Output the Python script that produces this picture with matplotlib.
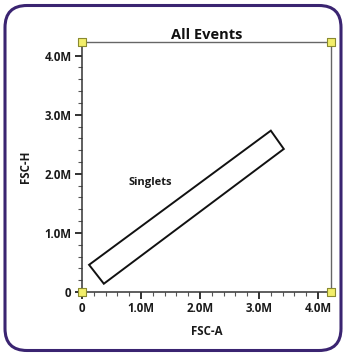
import matplotlib.pyplot as plt
from matplotlib.patches import FancyBboxPatch, Polygon
from matplotlib.ticker import MultipleLocator, FuncFormatter

# gate vertices (FSC-A, FSC-H), in events units
gate_x = [0.12e6, 0.37e6, 3.42e6, 3.20e6]
gate_y = [0.46e6, 0.14e6, 2.42e6, 2.73e6]
gate_name = 'Singlets'
gate_label_pos = (1.15e6, 1.85e6)

x_max = 4.22e6
y_max = 4.23e6
title = 'All Events'
x_label = 'FSC-A'
y_label = 'FSC-H'

plt.rcParams['font.family'] = ['Open Sans', 'DejaVu Sans']

fig = plt.figure(figsize=(3.44, 3.56), dpi=100)

# rounded panel outline (inches)
panel = FancyBboxPatch((0.05, 0.055), 3.36, 3.45,
                       boxstyle='round,pad=0,rounding_size=0.22',
                       transform=fig.dpi_scale_trans, facecolor='none',
                       edgecolor='#3a2471', linewidth=2.2, zorder=-1)
fig.patches.append(panel)

ax = fig.add_axes([82 / 344, 64 / 356, 249 / 344, 250 / 356])
ax.set_xlim(0, x_max)
ax.set_ylim(0, y_max)
ax.patch.set_alpha(0)


def fmt(v, pos):
    return '0' if v == 0 else f'{v / 1e6:.1f}M'


for axis in (ax.xaxis, ax.yaxis):
    axis.set_major_locator(MultipleLocator(1e6))
    axis.set_minor_locator(MultipleLocator(0.2e6))
    axis.set_major_formatter(FuncFormatter(fmt))

ax.tick_params(which='major', length=5, width=1.3, color='#222222',
               labelsize=8.3, pad=2.5)
ax.tick_params(which='minor', length=3, width=0.8, color='#555555')
for lbl in ax.get_xticklabels() + ax.get_yticklabels():
    lbl.set_fontweight('bold')
    lbl.set_color('#1a1a1a')

for side in ('left', 'bottom'):
    ax.spines[side].set_color('#333333')
    ax.spines[side].set_linewidth(1.1)
for side in ('top', 'right'):
    ax.spines[side].set_color('#666666')
    ax.spines[side].set_linewidth(1.0)

ax.set_title(title, fontsize=10.5, fontweight='bold', pad=1.5, color='#111111')
ax.set_xlabel(x_label, fontsize=8.3, fontweight='bold', labelpad=7, color='#1a1a1a')
ax.set_ylabel(y_label, fontsize=8.3, fontweight='bold', labelpad=9, color='#1a1a1a')

gate = Polygon(list(zip(gate_x, gate_y)), closed=True, fill=False,
               edgecolor='#111111', linewidth=1.4)
ax.add_patch(gate)
ax.text(*gate_label_pos, gate_name, fontsize=8, fontweight='bold',
        ha='center', va='center', color='#1a1a1a')

# corner handles
ax.scatter([0, 0, x_max, x_max], [0, y_max, y_max, 0], marker='s', s=30,
           facecolor='#f2ee6a', edgecolor='#8a8a30', linewidth=0.8,
           clip_on=False, zorder=5)

fig.savefig('out.png', dpi=100)
